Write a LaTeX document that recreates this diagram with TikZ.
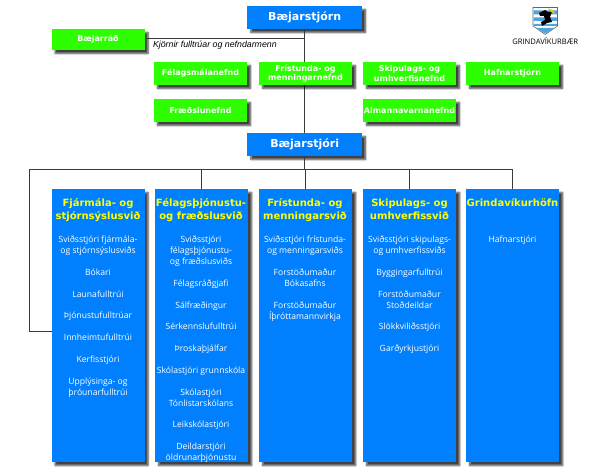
\documentclass[tikz,border=0pt]{standalone}
\usepackage{fontspec}
\usepackage{xcolor}
\usetikzlibrary{positioning,shadows.blur}
\setmainfont{DejaVu Sans}
\newfontfamily\listfont{Open Sans}
\newfontfamily\notefont{Liberation Sans}
\definecolor{bluebox}{HTML}{0080FF}
\definecolor{greenbox}{HTML}{2DFF00}
\definecolor{headyellow}{HTML}{FFFF00}
\definecolor{linegray}{HTML}{3A3A3A}
\definecolor{shieldblue}{HTML}{4FA3DC}

\begin{document}
\begin{tikzpicture}[x=1pt,y=-1pt,node distance=11pt,outer sep=0pt,
    shade3/.style={blur shadow={shadow xshift=3.5pt,shadow yshift=-3.5pt,shadow blur radius=1.8pt,
                   shadow blur steps=6,shadow opacity=75}},
    topbox/.style={fill=bluebox,shade3,text=white,minimum width=114.5pt,minimum height=23pt,
                   inner sep=0pt,align=center,font=\fontsize{11}{13}\selectfont\bfseries},
    nefnd/.style={fill=greenbox,shade3,text=white,minimum width=93pt,minimum height=23pt,
                  inner sep=0pt,align=center,font=\fontsize{8}{9.5}\selectfont\bfseries},
    column/.style={fill=bluebox,shade3,minimum width=93pt,minimum height=273pt,inner sep=0pt},
    heading/.style={text=headyellow,align=center,inner sep=0pt,anchor=north,
                    font=\fontsize{10}{13}\selectfont\bfseries},
    jobs/.style={text=white,align=center,inner sep=0pt,anchor=north,
                 font=\listfont\fontsize{8.6}{11}\selectfont},
    link/.style={draw=linegray,line width=.9pt}]
    \useasboundingbox (0,0) rectangle (595,468);

    \coordinate (rail) at (304.7,169);
    \coordinate (railend) at (29,169);
    \coordinate (kjorinn) at (304.7,38.5);
    \coordinate (hook) at (52,331);

    \draw[link] (railend)--(rail-|512.5,0);
    \draw[link] (railend)|-(hook);

    \node[topbox] (stjorn) at (304.7,17.5) {Bæjarstjórn};
    \node[topbox] (stjori) at (304.7,144.5) {Bæjarstjóri};
    \node[nefnd,minimum height=21pt] (rad) at (98,39.5) {Bæjarráð};
    \draw[link] (stjorn)--(stjori);
    \draw[link] (rad.east|-kjorinn)--(kjorinn);
    \draw[link] (stjori)--(rail);

    \node[nefnd] (felnefnd) at (200.5,73.5) {Félagsmálanefnd};
    \node[nefnd,right=12pt of felnefnd] (frinefnd) {Frístunda- og\\menningarnefnd};
    \node[nefnd,right=11pt of frinefnd] (skinefnd) {Skipulags- og\\umhverfisnefnd};
    \node[nefnd,right=10pt of skinefnd] (hafnefnd) {Hafnarstjórn};
    \node[nefnd,below=14pt of felnefnd] (fraenefnd) {Fræðslunefnd};
    \node[nefnd,below=14pt of skinefnd] (almnefnd) {Almannavarnanefnd};

    \node[column] (fjarbox) at (98,325.5) {};
    \node[column,right=10.7pt of fjarbox] (felbox) {};
    \node[column,right=11pt of felbox] (fribox) {};
    \node[column,right=11pt of fribox] (skibox) {};
    \node[column,right=10pt of skibox] (hafbox) {};
    \draw[link] (felbox.north|-rail)--(felbox.north);
    \draw[link] (fribox.north|-rail)--(fribox.north);
    \draw[link] (skibox.north|-rail)--(skibox.north);
    \draw[link] (hafbox.north|-rail)--(hafbox.north);

    \node[anchor=west,inner sep=0pt,font=\notefont\itshape\fontsize{8.8}{10}\selectfont] (kjor) at (153,45) {Kjörnir fulltrúar og nefndarmenn};

    \node[heading] (fjarhead) at (98,198.5) {Fjármála- og\\stjórnsýslusvið};
    \node[heading] (felhead) at (201,198.5) {Félagsþjónustu-\\og fræðslusvið};
    \node[heading] (frihead) at (305,198.5) {Frístunda- og\\menningarsvið};
    \node[heading] (skihead) at (409.5,198.5) {Skipulags- og\\umhverfissvið};
    \node[heading] (hafhead) at (512.5,198.5) {Grindavíkurhöfn};

    \node[jobs] (fjarjobs) at (98,236) {Sviðsstjóri fjármála-\\og stjórnsýslusviðs\\[10.75pt]
        Bókari\\[10.75pt]Launafulltrúi\\[10.75pt]Þjónustufulltrúar\\[10.75pt]Innheimtufulltrúi\\[10.75pt]
        Kerfisstjóri\\[10.75pt]Upplýsinga- og\\þróunarfulltrúi};
    \node[jobs] (feljobs) at (201,236) {Sviðsstjóri\\félagsþjónustu-\\og fræðslusviðs\\[10.75pt]
        Félagsráðgjafi\\[10.75pt]Sálfræðingur\\[10.75pt]Sérkennslufulltrúi\\[10.75pt]Þroskaþjálfar\\[10.75pt]
        Skólastjóri grunnskóla\\[10.75pt]Skólastjóri\\Tónlistarskólans\\[10.75pt]Leikskólastjóri\\[10.75pt]
        Deildarstjóri\\öldrunarþjónustu};
    \node[jobs] (frijobs) at (305,236) {Sviðsstjóri frístunda-\\og menningarsviðs\\[10.75pt]
        Forstöðumaður\\Bókasafns\\[10.75pt]Forstöðumaður\\Íþróttamannvirkja};
    \node[jobs] (skijobs) at (409.5,236) {Sviðsstjóri skipulags-\\og umhverfissviðs\\[10.75pt]
        Byggingarfulltrúi\\[10.75pt]Forstöðumaður\\Stoðdeildar\\[10.75pt]Slökkviliðsstjóri\\[10.75pt]Garðyrkjustjóri};
    \node[jobs] (hafjobs) at (512.5,236) {Hafnarstjóri};

    % merki
    \fill[white,draw=black!60,line width=.6pt] (533,7.5)--(557.5,7.5)--(557.5,26)--(545.2,34.5)--(533,26)--cycle;
    \fill[shieldblue] (533.5,10.5) rectangle (557,14.5) (533.5,17.5) rectangle (557,21) (533.5,24) rectangle (557,26)
        (536,28)--(554.5,28)--(545.2,33.5)--cycle;
    \fill[black] (539,13)--(545,10)--(548,12)--(552,12)--(550,17)--(552,22)--(547,23)--(542,26)--(541,22)--(545,20)--(544,16)--(540,16)--cycle;
    \fill[black!20!yellow] (548,8.5)--(553,10)--(555,14)--(551,12)--cycle;
    \node[inner sep=0pt,font=\listfont\fontsize{7.6}{8}\selectfont] (merki) at (545.2,41) {GRINDAVÍKURBÆR};
\end{tikzpicture}
\end{document}
